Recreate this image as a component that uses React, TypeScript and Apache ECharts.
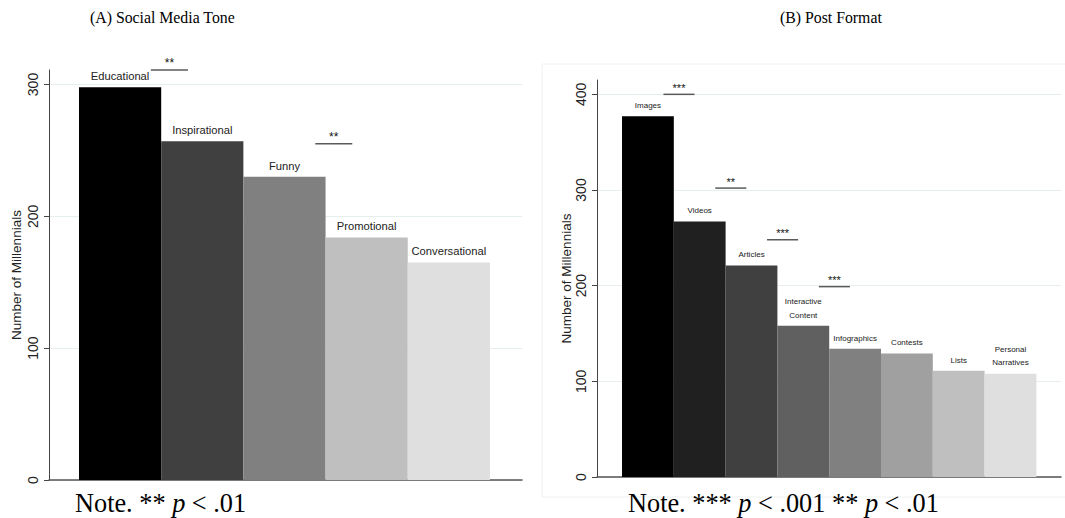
import { useEffect, useRef } from "react";
import * as echarts from "echarts";

// Panel A: social media tone
const toneCategories = ["Educational", "Inspirational", "Funny", "Promotional", "Conversational"];
const toneCounts = [298, 257, 230, 184, 165];
const toneSigBars = [0, 2]; // index of the left bar of each compared pair
const toneSigHeights = [311, 255];
const toneSigStars = ["**", "**"];
const toneTicks = [0, 100, 200, 300];

// Panel B: post format
const formatCategories = [
  "Images",
  "Videos",
  "Articles",
  "Interactive\nContent",
  "Infographics",
  "Contests",
  "Lists",
  "Personal\nNarratives",
];
const formatCounts = [377, 267, 221, 158, 134, 129, 111, 108];
const formatSigBars = [0, 1, 2, 3];
const formatSigHeights = [400, 302, 248, 199];
const formatSigStars = ["***", "**", "***", "***"];
const formatTicks = [0, 100, 200, 300, 400];

const toneShades = ["#000000", "#404040", "#808080", "#bfbfbf", "#dfdfdf"];
const formatShades = ["#000000", "#202020", "#404040", "#606060", "#808080", "#a0a0a0", "#bfbfbf", "#dfdfdf"];

const SANS = "Liberation Sans";
const SERIF = "Liberation Serif";
const GRID_COLOR = "#e6eeef";
const AXIS_COLOR = "#444";

function barRenderer(labels: string[], shades: string[], fontSize: number, lineHeight: number) {
  return (_params: any, api: any) => {
    const i = api.value(0);
    const v = api.value(1);
    const tl = api.coord([i - 0.5, v]);
    const br = api.coord([i + 0.5, 0]);
    return {
      type: "rect",
      shape: { x: tl[0], y: tl[1], width: br[0] - tl[0], height: br[1] - tl[1] },
      style: { fill: shades[i] },
      textContent: {
        style: {
          text: labels[i],
          fontSize,
          lineHeight,
          fill: "#222",
          fontFamily: SANS,
          align: "center",
        },
      },
      textConfig: { position: "top", distance: 4 },
    };
  };
}

function sigRenderer(stars: string[], halfWidth: number, starSize: number) {
  return (params: any, api: any) => {
    const i = api.value(0);
    const h = api.value(1);
    const mid = i + 0.6;
    const a = api.coord([mid - halfWidth, h]);
    const b = api.coord([mid + halfWidth, h]);
    return {
      type: "group",
      children: [
        {
          type: "line",
          shape: { x1: a[0], y1: a[1], x2: b[0], y2: b[1] },
          style: { stroke: "#5a5a5a", lineWidth: 1.5 },
        },
        {
          type: "text",
          x: (a[0] + b[0]) / 2,
          y: a[1] - 1,
          style: {
            text: stars[params.dataIndex],
            fontSize: starSize,
            fill: "#111",
            fontFamily: SANS,
            align: "center",
            verticalAlign: "bottom",
          },
        },
      ],
    };
  };
}

function yAxisFor(gridIndex: number, max: number, ticks: number[], nameGap: number) {
  return {
    type: "value",
    gridIndex,
    min: 0,
    max,
    interval: 100,
    name: "Number of Millennials",
    nameLocation: "middle",
    nameGap,
    nameTextStyle: { fontFamily: SANS, fontSize: 13.5, color: "#222" },
    axisLine: { show: true, onZero: false, lineStyle: { color: AXIS_COLOR, width: 1 } },
    axisTick: { show: true, length: 5, customValues: ticks, lineStyle: { color: AXIS_COLOR } },
    axisLabel: {
      rotate: 90,
      margin: 9,
      fontFamily: SANS,
      fontSize: 14,
      color: "#222",
      customValues: ticks,
    },
    splitLine: {
      show: true,
      customValues: ticks.filter((t) => t > 0),
      lineStyle: { color: GRID_COLOR, width: 1 },
    },
  };
}

function xAxisFor(gridIndex: number, min: number, max: number) {
  return {
    type: "value",
    gridIndex,
    min,
    max,
    axisLine: { show: true, onZero: false, lineStyle: { color: "#555", width: 1.5 } },
    axisTick: { show: false },
    axisLabel: { show: false },
    splitLine: { show: false },
  };
}

export default function App() {
  const ref = useRef<HTMLDivElement>(null);

  useEffect(() => {
    document.body.style.margin = "0";
    if (!ref.current) return;
    const chart = echarts.init(ref.current, null, { renderer: "svg" });

    const noteStyle = {
      fontFamily: SERIF,
      fontSize: 26.3,
      fontWeight: "normal" as const,
      color: "#000",
      rich: { i: { fontFamily: SERIF, fontSize: 26.3, fontStyle: "italic" as const, color: "#000" } },
    };
    const headStyle = { fontFamily: SERIF, fontSize: 15.8, fontWeight: "normal" as const, color: "#000" };

    chart.setOption({
      animation: false,
      backgroundColor: "#fff",
      title: [
        { text: "(A) Social Media Tone", left: 90, top: 9, padding: 0, textStyle: headStyle },
        { text: "(B) Post Format", left: 780, top: 9, padding: 0, textStyle: headStyle },
        { text: "Note. ** {i|p} < .01", left: 75, top: 490, padding: 0, textStyle: noteStyle },
        { text: "Note. *** {i|p} < .001 ** {i|p} < .01", left: 628, top: 490, padding: 0, textStyle: noteStyle },
      ],
      graphic: [
        {
          type: "rect",
          z: -1,
          shape: { x: 542, y: 64, width: 540, height: 433 },
          style: { fill: "none", stroke: "#eef2f2", lineWidth: 1 },
        },
      ],
      grid: [
        { left: 49, right: 543, top: 70, bottom: 38 },
        { left: 597, right: 4, top: 80, bottom: 41 },
      ],
      xAxis: [xAxisFor(0, -0.865, 4.89), xAxisFor(1, -0.983, 7.975)],
      yAxis: [yAxisFor(0, 311, toneTicks, 26), yAxisFor(1, 415, formatTicks, 24)],
      series: [
        {
          type: "custom",
          xAxisIndex: 0,
          yAxisIndex: 0,
          renderItem: barRenderer(toneCategories, toneShades, 11.2, 14),
          data: toneCounts.map((v, i) => [i, v]),
          z: 2,
        },
        {
          type: "custom",
          xAxisIndex: 0,
          yAxisIndex: 0,
          renderItem: sigRenderer(toneSigStars, 0.225, 12),
          data: toneSigBars.map((b, k) => [b, toneSigHeights[k]]),
          z: 3,
        },
        {
          type: "custom",
          xAxisIndex: 1,
          yAxisIndex: 1,
          renderItem: barRenderer(formatCategories, formatShades, 8, 13.5),
          data: formatCounts.map((v, i) => [i, v]),
          z: 2,
        },
        {
          type: "custom",
          xAxisIndex: 1,
          yAxisIndex: 1,
          renderItem: sigRenderer(formatSigStars, 0.3, 11),
          data: formatSigBars.map((b, k) => [b, formatSigHeights[k]]),
          z: 3,
        },
      ],
    });

    return () => chart.dispose();
  }, []);

  return <div ref={ref} style={{ width: 1065, height: 518 }} />;
}
